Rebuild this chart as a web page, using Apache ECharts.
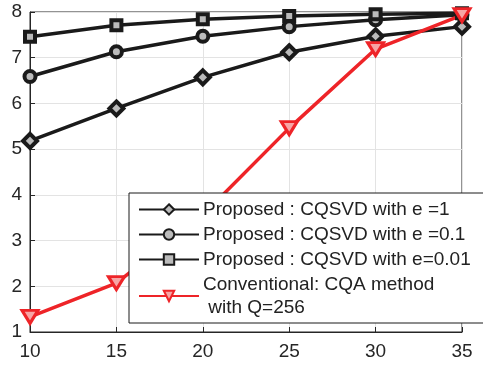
<!DOCTYPE html>
<html>
<head>
<meta charset="utf-8">
<script src="https://cdn.jsdelivr.net/npm/echarts@6/dist/echarts.min.js"></script>
<style>
html, body { margin: 0; padding: 0; background: #fff; }
#chart { width: 483px; height: 367px; }
</style>
</head>
<body>
<div id="chart"></div>
<script>
var xValues = [10, 15, 20, 25, 30, 35];
var cqsvd1 = [5.18, 5.89, 6.57, 7.12, 7.47, 7.68];
var cqsvd01 = [6.59, 7.13, 7.47, 7.68, 7.83, 7.94];
var cqsvd001 = [7.46, 7.71, 7.84, 7.91, 7.95, 7.97];
var cqa256 = [1.33, 2.07, 3.56, 5.46, 7.19, 7.93];
var seriesNames = [
    'Proposed : CQSVD with e =1',
    'Proposed : CQSVD with e =0.1',
    'Proposed : CQSVD with e=0.01',
    'Conventional: CQA method\n with Q=256'
];

function pairs(ys) {
    var out = [];
    for (var i = 0; i < xValues.length; i++) {
        out.push([xValues[i], ys[i]]);
    }
    return out;
}

function blackSeries(name, ys, symbol, size) {
    return {
        name: name,
        type: 'line',
        data: pairs(ys),
        symbol: symbol,
        symbolSize: size,
        showAllSymbol: true,
        lineStyle: { color: '#1a1a1a', width: 3.5 },
        itemStyle: { color: '#bbbbbb', borderColor: '#1a1a1a', borderWidth: 4 },
        emphasis: { disabled: true }
    };
}

var axisColor = '#262626';
var chart = echarts.init(document.getElementById('chart'));
var option = {
    animation: false,
    textStyle: { fontFamily: 'Liberation Sans' },
    grid: {
        left: 30, right: 21, top: 12, bottom: 35,
        show: true, borderColor: axisColor, borderWidth: 1
    },
    xAxis: {
        type: 'value',
        min: 10, max: 35, interval: 5,
        axisLine: { lineStyle: { color: axisColor } },
        axisTick: { inside: true, length: 5, lineStyle: { color: axisColor } },
        axisLabel: { color: axisColor, fontSize: 19, margin: 10 },
        splitLine: { lineStyle: { color: '#e3e3e3', width: 1 } }
    },
    yAxis: {
        type: 'value',
        min: 1, max: 8, interval: 1,
        axisLine: { show: true, lineStyle: { color: axisColor } },
        axisTick: { show: true, inside: true, length: 5, lineStyle: { color: axisColor } },
        axisLabel: { color: axisColor, fontSize: 19, margin: 8 },
        splitLine: { lineStyle: { color: '#e3e3e3', width: 1 } }
    },
    legend: {
        left: 129, top: 193,
        orient: 'vertical',
        itemWidth: 60, itemHeight: 13, itemGap: 2,
        backgroundColor: '#ffffff',
        borderColor: '#1a1a1a', borderWidth: 1,
        borderRadius: 0,
        padding: [5, 40, 4, 9],
        textStyle: { color: '#222', fontSize: 19, lineHeight: 23, fontFamily: 'Liberation Sans', padding: [0, 0, 0, -1] },
        data: seriesNames
    },
    series: [
        blackSeries(seriesNames[0], cqsvd1, 'diamond', 14),
        blackSeries(seriesNames[1], cqsvd01, 'circle', 11),
        blackSeries(seriesNames[2], cqsvd001, 'rect', 10),
        {
            name: seriesNames[3],
            type: 'line',
            data: pairs(cqa256),
            symbol: 'triangle',
            symbolRotate: 180,
            symbolSize: [16, 13],
            lineStyle: { color: '#ee2428', width: 3.5 },
            itemStyle: { color: '#f7a5a5', borderColor: '#ee2428', borderWidth: 3 },
            emphasis: { disabled: true }
        }
    ]
};
chart.setOption(option);
</script>
</body>
</html>
